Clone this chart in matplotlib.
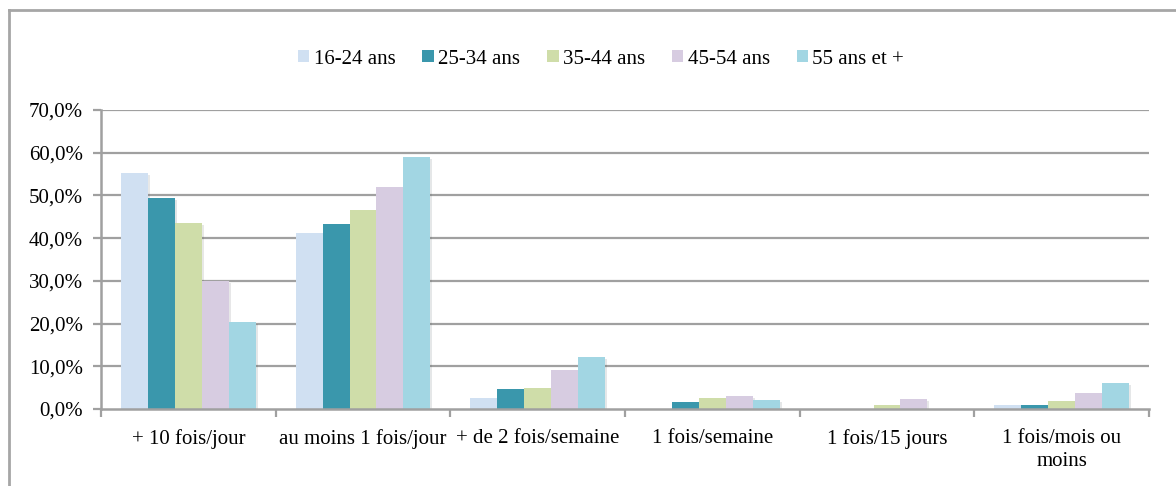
import matplotlib
matplotlib.use("Agg")
import matplotlib.pyplot as plt
import matplotlib.patheffects as pe
from matplotlib.lines import Line2D
from matplotlib.patches import Patch
import numpy as np

plt.rcParams['font.family'] = ['Liberation Serif', 'DejaVu Serif']

categories = ["+ 10 fois/jour", "au moins 1 fois/jour", "+ de 2 fois/semaine",
              "1 fois/semaine", "1 fois/15 jours", "1 fois/mois ou\nmoins"]
series_names = ["16-24 ans", "25-34 ans", "35-44 ans", "45-54 ans", "55 ans et +"]
v_16_24 = [55.3, 41.2, 2.6, 0.0, 0.0, 1.0]
v_25_34 = [49.4, 43.3, 4.7, 1.6, 0.0, 1.0]
v_35_44 = [43.6, 46.6, 4.9, 2.6, 1.0, 1.9]
v_45_54 = [30.0, 52.0, 9.1, 3.1, 2.3, 3.8]
v_55p = [20.4, 59.0, 12.2, 2.1, 0.0, 6.1]
values = [v_16_24, v_25_34, v_35_44, v_45_54, v_55p]
colors = ["#D0E0F2", "#3A97AC", "#CFDDA9", "#D7CCE1", "#A2D6E3"]
yticks = [0, 10, 20, 30, 40, 50, 60, 70]

W, H = 1176, 486
fig = plt.figure(figsize=(W / 100, H / 100), dpi=100)
ax = fig.add_axes([101 / W, (H - 409) / H, (1149 - 101) / W, (409 - 110) / H])

grid_c = "#A0A0A0"
n = len(categories)
x = np.arange(n) + 0.5
bw = 0.154
shadow = [pe.SimplePatchShadow(offset=(1.5, -1.5), alpha=0.12), pe.Normal()]
for i, (vals, c) in enumerate(zip(values, colors)):
    bars = ax.bar(x + (i - 2) * bw, vals, width=bw, color=c, zorder=3, linewidth=0)
    for b in bars:
        b.set_path_effects(shadow)

ax.set_xlim(0, n)
ax.set_ylim(0, 70)
ax.set_yticks(yticks)
ax.set_yticklabels([f"{t:.1f}%".replace('.', ',') for t in yticks])
for t in yticks[1:]:
    ax.axhline(t, color=grid_c, lw=1.6, zorder=1)

ax.set_xticks(x)
ax.set_xticklabels(categories, linespacing=1.3)
ax.set_xticks(np.arange(n + 1), minor=True)
ax.tick_params(axis='x', which='major', length=0, pad=14.5, labelsize=15)
ax.tick_params(axis='x', which='minor', length=6, width=1.6, color=grid_c)
ax.tick_params(axis='y', length=6, width=1.6, color=grid_c, labelsize=15, pad=7)

for s in ['top', 'right']:
    ax.spines[s].set_visible(False)
for s in ['left', 'bottom']:
    ax.spines[s].set_color(grid_c)
    ax.spines[s].set_linewidth(1.8)
ax.spines['bottom'].set_zorder(4)

handles = [Patch(facecolor=c, edgecolor='none') for c in colors]
fig.legend(handles, series_names, loc='center', bbox_to_anchor=(601 / W, 1 - 59 / H),
           ncol=5, frameon=False, fontsize=15, handlelength=0.55, handleheight=0.55,
           handletextpad=0.2, columnspacing=1.3)

# outer frame (left and top edges)
fig.add_artist(Line2D([9 / W, 9 / W], [0, 1 - 10 / H], color="#A6A6A6", lw=2,
                      transform=fig.transFigure))
fig.add_artist(Line2D([9 / W, 1], [1 - 10 / H, 1 - 10 / H], color="#A6A6A6", lw=2,
                      transform=fig.transFigure))

fig.savefig("out.png", dpi=100, facecolor="white")
